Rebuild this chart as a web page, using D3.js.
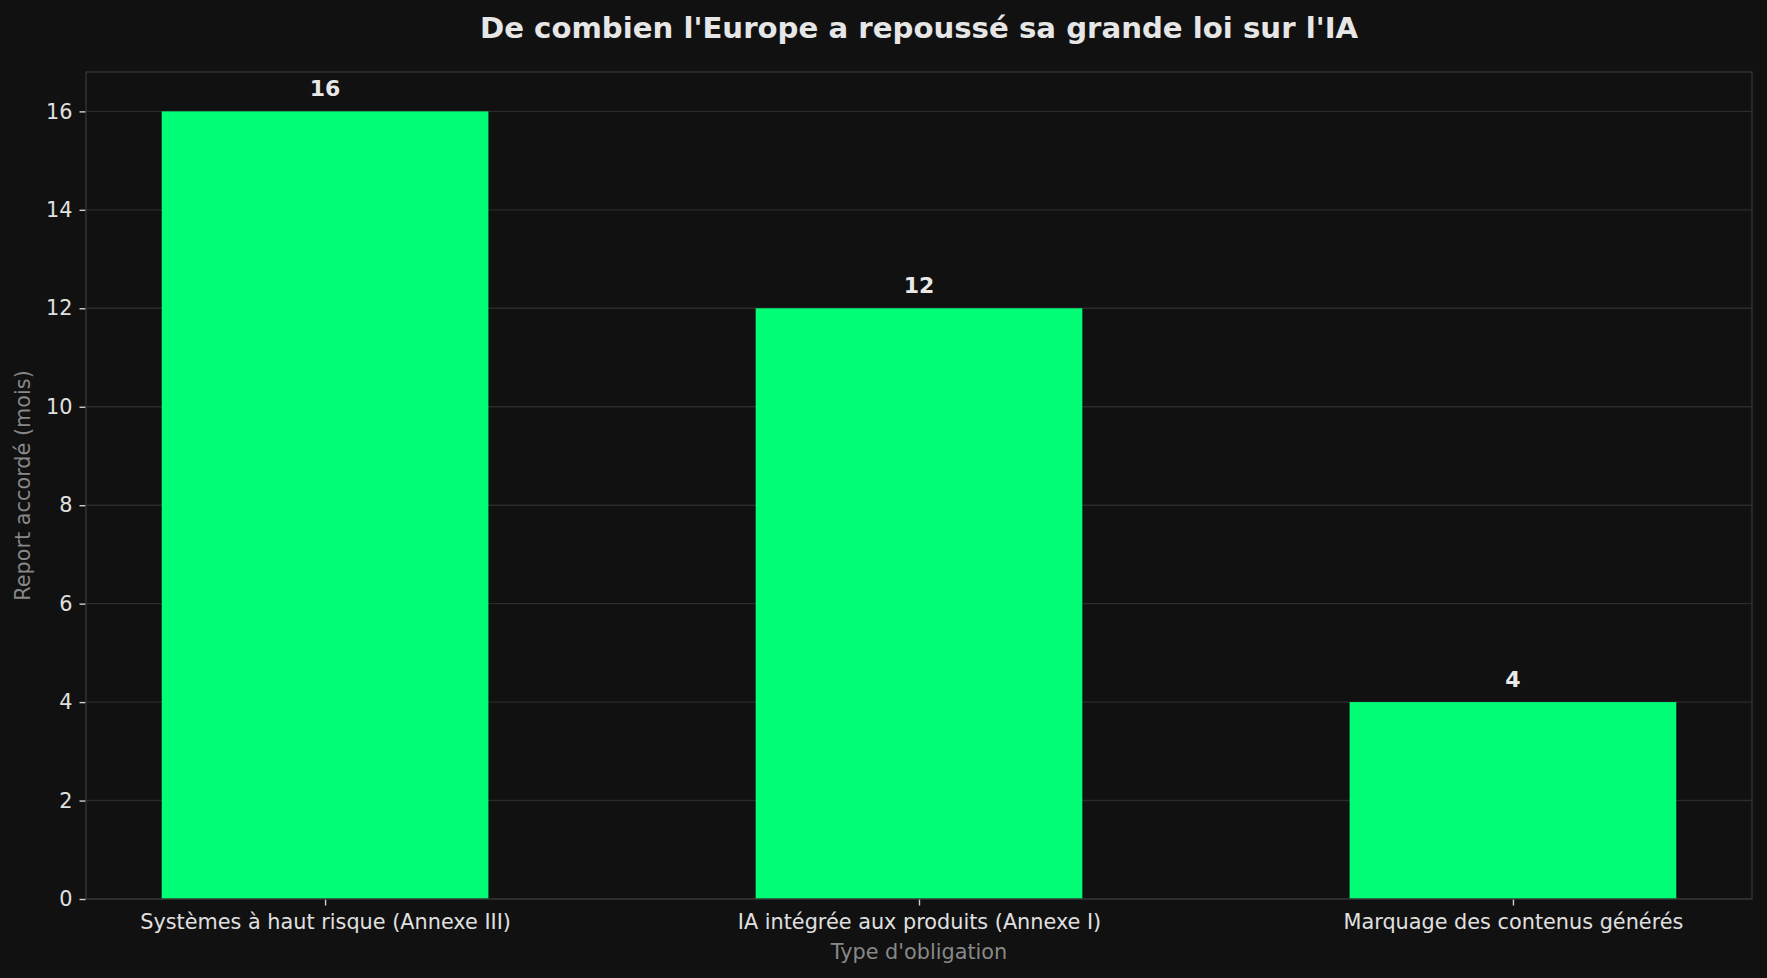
<!DOCTYPE html>
<html>
<head>
<meta charset="utf-8">
<script src="https://cdn.jsdelivr.net/npm/d3@7"></script>
<style>
  body { margin: 0; background: #111111; }
  svg { display: block; font-family: "DejaVu Sans", sans-serif; }
  .tick text { fill: #e0e0e0; font-size: 20.8px; }
  .tick line { stroke: #d0d0d0; stroke-width: 1.4; }
  .domain { display: none; }
</style>
</head>
<body>
<div id="chart"></div>
<script>
// chart data
const categories = [
    "Systèmes à haut risque (Annexe III)",
    "IA intégrée aux produits (Annexe I)",
    "Marquage des contenus générés"
];
const delayMonths = [16, 12, 4];
const yTicks = [0, 2, 4, 6, 8, 10, 12, 14, 16];

const titleText = "De combien l'Europe a repoussé sa grande loi sur l'IA";
const xLabel = "Type d'obligation";
const yLabel = "Report accordé (mois)";

const config = {
    width: 1767,
    height: 978,
    margin: { top: 72, right: 15, bottom: 79, left: 86 }
};

const width = config.width - config.margin.left - config.margin.right;
const height = config.height - config.margin.top - config.margin.bottom;

const svg = d3.select("#chart")
    .append("svg")
    .attr("width", config.width)
    .attr("height", config.height);

svg.append("rect")
    .attr("width", config.width)
    .attr("height", config.height)
    .attr("fill", "#111111");

const g = svg.append("g")
    .attr("transform", `translate(${config.margin.left},${config.margin.top})`);

// scales - bars are 0.55 wide, x range padded like matplotlib margins
const barWidth = 0.55;
const lo = -barWidth / 2, hi = categories.length - 1 + barWidth / 2;
const pad = (hi - lo) * 0.05;
const xScale = d3.scaleLinear()
    .domain([lo - pad, hi + pad])
    .range([0, width]);

const yMax = d3.max(delayMonths) * 1.05;
const yScale = d3.scaleLinear()
    .domain([0, yMax])
    .range([height, 0]);

// grid
g.append("g")
    .selectAll("line")
    .data(yTicks)
    .enter().append("line")
    .attr("x1", 0)
    .attr("x2", width)
    .attr("y1", d => yScale(d))
    .attr("y2", d => yScale(d))
    .attr("stroke", "#2b2b2b")
    .attr("stroke-width", 1.4);

// bars
g.selectAll(".bar")
    .data(delayMonths)
    .enter().append("rect")
    .attr("class", "bar")
    .attr("x", (d, i) => xScale(i - barWidth / 2))
    .attr("width", (d, i) => xScale(i + barWidth / 2) - xScale(i - barWidth / 2))
    .attr("y", d => yScale(d))
    .attr("height", d => height - yScale(d))
    .attr("fill", "#00ff77");

// value labels
g.selectAll(".bar-label")
    .data(delayMonths)
    .enter().append("text")
    .attr("class", "bar-label")
    .attr("x", (d, i) => xScale(i))
    .attr("y", d => yScale(d) - 15.5)
    .attr("text-anchor", "middle")
    .attr("font-size", "22px")
    .attr("font-weight", "bold")
    .attr("fill", "#e8e8e8")
    .text(d => d);

// axes
const xAxis = d3.axisBottom(xScale)
    .tickValues(d3.range(categories.length))
    .tickFormat(i => categories[i])
    .tickSize(6.5)
    .tickPadding(9);

const yAxis = d3.axisLeft(yScale)
    .tickValues(yTicks)
    .tickSize(6.5)
    .tickPadding(7);

g.append("g")
    .attr("class", "x-axis")
    .attr("transform", `translate(0,${height})`)
    .call(xAxis)
    .attr("font-family", "DejaVu Sans");

g.append("g")
    .attr("class", "y-axis")
    .call(yAxis)
    .attr("font-family", "DejaVu Sans");

// frame
g.append("rect")
    .attr("width", width)
    .attr("height", height)
    .attr("fill", "none")
    .attr("stroke", "#333333")
    .attr("stroke-width", 1.4);

// titles
svg.append("text")
    .attr("x", config.margin.left + width / 2)
    .attr("y", 38)
    .attr("text-anchor", "middle")
    .attr("font-size", "29.2px")
    .attr("font-weight", "bold")
    .attr("fill", "#e6e6e6")
    .text(titleText);

svg.append("text")
    .attr("x", config.margin.left + width / 2)
    .attr("y", 959)
    .attr("text-anchor", "middle")
    .attr("font-size", "20.8px")
    .attr("fill", "#888888")
    .text(xLabel);

svg.append("text")
    .attr("transform", `translate(30,${config.margin.top + height / 2}) rotate(-90)`)
    .attr("text-anchor", "middle")
    .attr("font-size", "20.8px")
    .attr("fill", "#888888")
    .text(yLabel);
</script>
</body>
</html>
